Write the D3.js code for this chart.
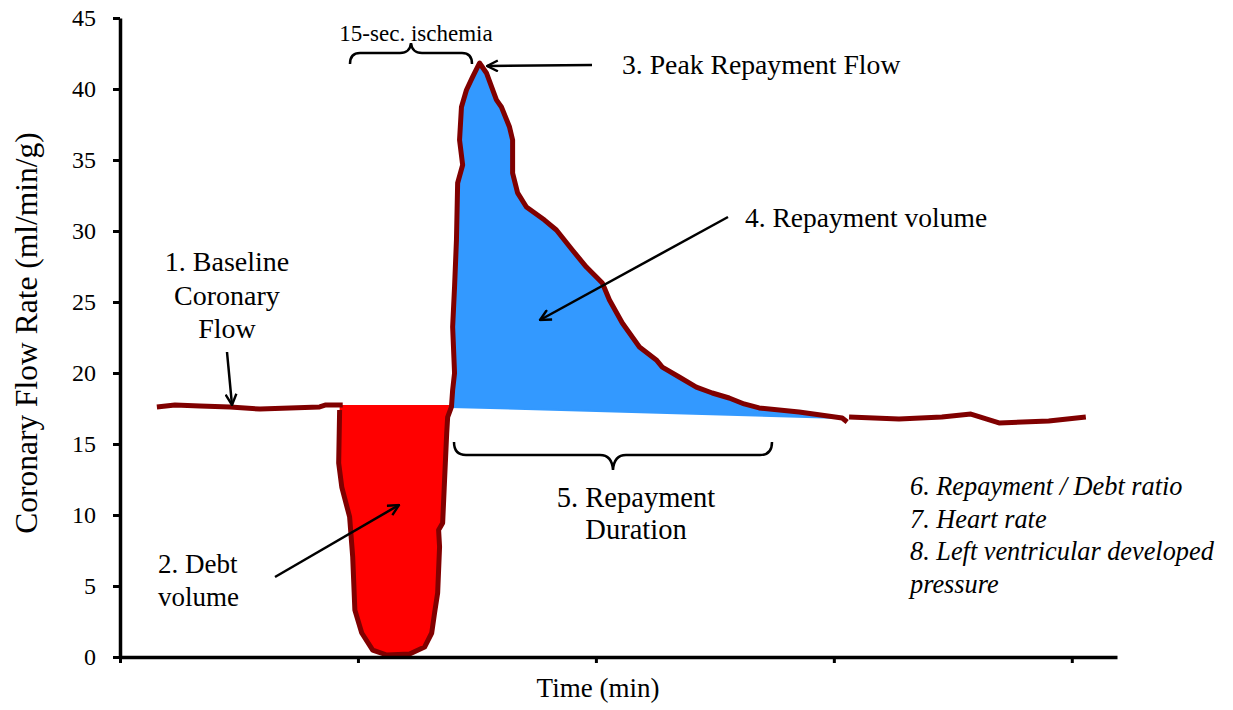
<!DOCTYPE html>
<html>
<head>
<meta charset="utf-8">
<script src="https://cdn.jsdelivr.net/npm/d3@7/dist/d3.min.js"></script>
<style>
  html, body { margin: 0; padding: 0; background: #ffffff; }
  svg { display: block; }
</style>
</head>
<body>
<svg id="chart" width="1233" height="710"></svg>
<script>
// ---------- data (time in min, coronary flow in ml/min/g) ----------
const yTicks = [0, 5, 10, 15, 20, 25, 30, 35, 40, 45];
const xTicks = [0, 1, 2, 3, 4];

// baseline before ischemia
const preTime = [0.155, 0.231, 0.336, 0.462, 0.588, 0.714, 0.839, 0.865, 0.936];
const preFlow = [17.61, 17.75, 17.68, 17.61, 17.46, 17.54, 17.61, 17.75, 17.75];

// ischemia (debt) + reperfusion (repayment)
const mainTime = [0.923, 0.919, 0.932, 0.965, 0.978, 0.987, 1.016, 1.062, 1.121, 1.217,
  1.280, 1.310, 1.322, 1.335, 1.343, 1.339, 1.356, 1.364, 1.373, 1.377,
  1.393, 1.398, 1.406, 1.398, 1.406, 1.414, 1.419, 1.440, 1.427, 1.435,
  1.456, 1.482, 1.511, 1.540, 1.582, 1.603, 1.637, 1.650, 1.650, 1.671,
  1.708, 1.784, 1.834, 1.901, 1.960, 2.027, 2.057, 2.111, 2.183, 2.254,
  2.279, 2.350, 2.422, 2.489, 2.560, 2.623, 2.686, 2.854, 3.035, 3.056];
const mainFlow = [17.39, 13.66, 11.97, 9.86, 7.04, 3.31, 1.69, 0.49, 0.14, 0.21,
  0.70, 1.69, 3.10, 4.51, 7.75, 8.94, 9.44, 12.46, 15.77, 16.90,
  17.61, 18.80, 20.00, 23.24, 26.06, 29.37, 33.38, 34.65, 36.41, 38.73,
  39.93, 40.85, 41.83, 41.13, 39.23, 38.73, 37.32, 36.41, 34.08, 32.68,
  31.69, 30.77, 30.07, 28.66, 27.46, 26.34, 25.14, 23.52, 21.83, 20.92,
  20.42, 19.72, 19.01, 18.59, 18.24, 17.82, 17.54, 17.25, 16.83, 16.55];

// baseline after recovery
const postTime = [3.064, 3.274, 3.454, 3.576, 3.694, 3.903, 4.059];
const postFlow = [16.90, 16.76, 16.90, 17.11, 16.48, 16.62, 16.90];

// index ranges in main series
const debtStart = 0, debtEnd = 20;     // dip
const repayStart = 20, repayEnd = 58;  // repayment
const debtTop = 17.75;

// ---------- layout ----------
const FONT = "'Liberation Serif', 'Times New Roman', Tinos, serif";
const svg = d3.select("#chart");
const x = d3.scaleLinear().domain([0, 4.19]).range([120, 1117]);
const y = d3.scaleLinear().domain([0, 45]).range([657, 18]);

const pts = (ts, fs) => ts.map((t, i) => [t, fs[i]]);
const pre = pts(preTime, preFlow);
const main = pts(mainTime, mainFlow);
const post = pts(postTime, postFlow);

const line = d3.line().x(d => x(d[0])).y(d => y(d[1]));

// debt (red) polygon
const debtPoly = [[mainTime[debtStart], debtTop]]
  .concat(main.slice(debtStart, debtEnd + 1))
  .concat([[mainTime[debtEnd], debtTop]]);
svg.append("path").attr("d", line(debtPoly) + "Z")
  .attr("fill", "#ff0000").attr("stroke", "none");

// repayment (blue) polygon, closed by straight line back to start
const repayPoly = main.slice(repayStart, repayEnd + 1);
svg.append("path").attr("d", line(repayPoly) + "Z")
  .attr("fill", "#3399ff").attr("stroke", "#3399ff").attr("stroke-width", 2);

// flow line
[pre, main, post].forEach(seg => {
  svg.append("path").attr("d", line(seg))
    .attr("fill", "none").attr("stroke", "#800000")
    .attr("stroke-width", 5).attr("stroke-linejoin", "round");
});

// ---------- axes ----------
const yAxis = svg.append("g").attr("transform", `translate(${x(0)},0)`)
  .call(d3.axisLeft(y).tickValues(yTicks).tickSize(7).tickSizeOuter(0).tickPadding(17));
const xAxis = svg.append("g").attr("transform", `translate(0,${y(0)})`)
  .call(d3.axisBottom(x).tickValues(xTicks).tickFormat("").tickSize(6).tickSizeOuter(0));
[yAxis, xAxis].forEach(g => {
  g.select(".domain").attr("stroke", "#000").attr("stroke-width", 3.5);
  g.selectAll(".tick line").attr("stroke", "#000").attr("stroke-width", 3);
});
yAxis.selectAll(".tick text")
  .style("font-family", FONT).style("font-size", "24px").attr("fill", "#000");

svg.append("text").attr("transform", "translate(37,333) rotate(-90)")
  .attr("text-anchor", "middle").style("font-family", FONT).style("font-size", "31.5px")
  .attr("fill", "#000").text("Coronary Flow Rate (ml/min/g)");
svg.append("text").attr("x", 598).attr("y", 697)
  .attr("text-anchor", "middle").style("font-family", FONT).style("font-size", "27px")
  .attr("fill", "#000").text("Time (min)");

// ---------- annotations ----------
const defs = svg.append("defs");
defs.append("marker").attr("id", "arrow").attr("viewBox", "0 0 12 12")
  .attr("refX", 11).attr("refY", 6).attr("markerWidth", 13).attr("markerHeight", 13)
  .attr("markerUnits", "userSpaceOnUse").attr("orient", "auto")
  .append("path").attr("d", "M1,1 L11,6 L1,11").attr("fill", "none")
  .attr("stroke", "#000").attr("stroke-width", 2.2);

function arrow(x1, y1, x2, y2) {
  svg.append("line").attr("x1", x1).attr("y1", y1).attr("x2", x2).attr("y2", y2)
    .attr("stroke", "#000").attr("stroke-width", 2.5).attr("marker-end", "url(#arrow)");
}
function label(lines, cx, y0, dy, anchor, size, italic) {
  const t = svg.append("text").attr("text-anchor", anchor)
    .style("font-family", FONT).style("font-size", size + "px").attr("fill", "#000");
  if (italic) t.style("font-style", "italic");
  lines.forEach((s, i) => t.append("tspan").attr("x", cx).attr("y", y0 + i * dy).text(s));
}

label(["1. Baseline", "Coronary", "Flow"], 227, 271, 33.5, "middle", 28, false);
arrow(227, 352, 232, 405);

label(["2. Debt", "volume"], 158, 573, 33, "start", 27, false);
arrow(275, 577, 399, 505);

label(["15-sec. ischemia"], 416, 41, 0, "middle", 23, false);
svg.append("path")
  .attr("d", "M350,64 Q350,53 360,53 L400,53 Q410,53 411,43 Q412,53 422,53 L462,53 Q472,53 472,64")
  .attr("fill", "none").attr("stroke", "#000").attr("stroke-width", 2.5);

label(["3. Peak Repayment Flow"], 622, 74, 0, "start", 27.7, false);
arrow(592, 65, 487, 66);

label(["4. Repayment volume"], 745, 227, 0, "start", 27.5, false);
arrow(728, 217, 540, 320);

svg.append("path")
  .attr("d", "M454,442 Q454,455 466,455 L600,455 Q612,455 613,470 Q614,455 626,455 L760,455 Q772,455 772,442")
  .attr("fill", "none").attr("stroke", "#000").attr("stroke-width", 2.5);
label(["5. Repayment", "Duration"], 636, 507, 31.5, "middle", 28.5, false);

label(["6. Repayment / Debt ratio", "7. Heart rate", "8. Left ventricular developed", "pressure"],
  910, 495, 32.5, "start", 26.3, true);
</script>
</body>
</html>
